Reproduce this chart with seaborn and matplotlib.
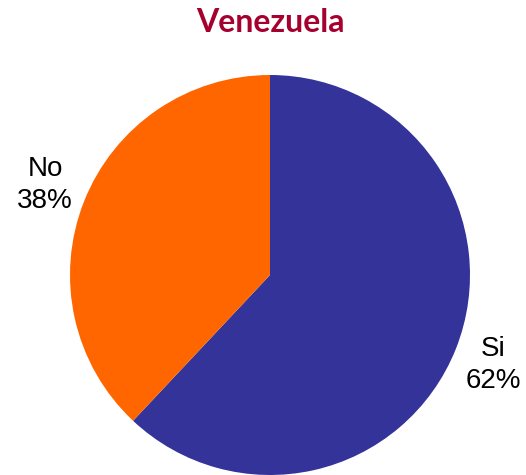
## Pie chart: Venezuela Si / No share
import matplotlib
matplotlib.use("Agg")
import matplotlib.pyplot as plt
import seaborn as sns

## Data
labels = ["Si", "No"]
shares = [62, 38]
colors = ["#333399", "#FF6600"]

sns.set_theme(style="white")
plt.rcParams['font.family'] = ['Liberation Sans', 'DejaVu Sans']

fig = plt.figure(figsize=(5.26, 4.75), dpi=100)
# pie circle centered at (270, 275) px with radius 200 px
ax = fig.add_axes([70 / 526, 0, 400 / 526, 400 / 475])
wedges, _ = ax.pie(shares, colors=sns.color_palette(colors), startangle=90,
                   counterclock=False, radius=1,
                   wedgeprops={"linewidth": 0, "edgecolor": "none"})
ax.set_xlim(-1, 1)
ax.set_ylim(-1, 1)
ax.set_aspect("equal")
ax.axis("off")

# outside labels: name + percent
label_pos = [(1.115, -0.45), (-1.125, 0.45)]
for lab, val, (x, y) in zip(labels, shares, label_pos):
    ax.text(x, y, f"{lab}\n{val}%", ha="center", va="center", fontsize=20,
            linespacing=1.3, color="black", clip_on=False)

fig.text(270 / 526, 1 - 22 / 475, "Venezuela", ha="center", va="center",
         fontsize=23, fontweight="bold", color="#A6002F",
         family=['Lato', 'DejaVu Sans'])

plt.savefig("out.png", dpi=100)
